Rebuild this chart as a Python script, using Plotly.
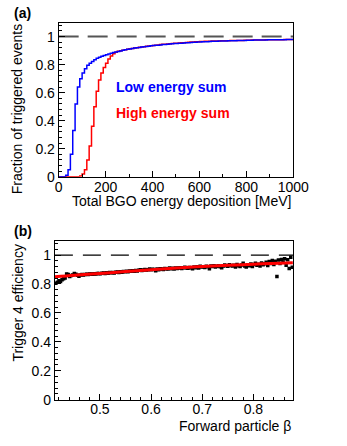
import plotly.graph_objects as go

W, H = 347, 446
FONT = "Liberation Sans, Arial, Helvetica, sans-serif"

# ---------------- Panel (a) data: cumulative fraction, 10 MeV bins ----------------
energy_edges = list(range(0, 1001, 10))  # bin edges in MeV
low_sum = [
    0.0, 0.0, 0.0, 0.01, 0.05, 0.16, 0.33, 0.52, 0.64, 0.70,
    0.74, 0.77, 0.795, 0.81, 0.823, 0.835, 0.845, 0.853, 0.86, 0.866,
    0.871, 0.876, 0.881, 0.886, 0.890, 0.894, 0.898, 0.902, 0.906, 0.909,
    0.912, 0.915, 0.918, 0.920, 0.923, 0.925, 0.927, 0.930, 0.932, 0.934,
    0.936, 0.938, 0.939, 0.941, 0.943, 0.944, 0.946, 0.947, 0.949, 0.950,
    0.951, 0.952, 0.953, 0.955, 0.956, 0.957, 0.958, 0.959, 0.960, 0.961,
    0.962, 0.963, 0.963, 0.964, 0.965, 0.966, 0.966, 0.967, 0.968, 0.968,
    0.969, 0.969, 0.970, 0.970, 0.971, 0.971, 0.972, 0.972, 0.973, 0.973,
    0.974, 0.974, 0.974, 0.975, 0.975, 0.975, 0.976, 0.976, 0.976, 0.977,
    0.977, 0.977, 0.977, 0.978, 0.978, 0.978, 0.978, 0.979, 0.979, 0.979,
]
high_sum = [
    0.0, 0.0, 0.0, 0.0, 0.0, 0.0, 0.0, 0.0, 0.0, 0.005,
    0.02, 0.05, 0.12, 0.22, 0.36, 0.50, 0.61, 0.69, 0.74, 0.78,
    0.81, 0.84, 0.862, 0.878, 0.889, 0.895, 0.899, 0.903, 0.907, 0.910,
    0.913, 0.916, 0.919, 0.921, 0.924, 0.926, 0.928, 0.931, 0.933, 0.935,
    0.937, 0.939, 0.941, 0.943, 0.945, 0.946, 0.948, 0.949, 0.951, 0.952,
    0.953, 0.955, 0.956, 0.957, 0.958, 0.960, 0.961, 0.962, 0.963, 0.964,
    0.965, 0.965, 0.966, 0.967, 0.967, 0.968, 0.968, 0.969, 0.969, 0.970,
    0.970, 0.971, 0.971, 0.972, 0.972, 0.972, 0.973, 0.973, 0.973, 0.974,
    0.974, 0.974, 0.975, 0.975, 0.975, 0.976, 0.976, 0.976, 0.977, 0.977,
    0.977, 0.977, 0.978, 0.978, 0.978, 0.978, 0.979, 0.979, 0.979, 0.979,
]

# ---------------- Panel (b) data: trigger 4 efficiency vs beta ----------------
beta_start, beta_step = 0.414, 0.003
efficiency = [
    0.805, 0.812, 0.822, 0.818, 0.830, 0.836, 0.842, 0.870, 0.866, 0.852,
    0.858, 0.862, 0.872, 0.868, 0.860, 0.853, 0.862, 0.866, 0.863, 0.866,
    0.868, 0.866, 0.869, 0.870, 0.868, 0.871, 0.870, 0.872, 0.873, 0.871,
    0.874, 0.876, 0.873, 0.877, 0.875, 0.879, 0.878, 0.880, 0.876, 0.882,
    0.883, 0.880, 0.884, 0.882, 0.886, 0.885, 0.888, 0.884, 0.890, 0.888,
    0.891, 0.889, 0.893, 0.890, 0.895, 0.898, 0.893, 0.896, 0.900, 0.897,
    0.899, 0.904, 0.898, 0.902, 0.900, 0.892, 0.904, 0.898, 0.906, 0.903,
    0.901, 0.908, 0.905, 0.903, 0.910, 0.906, 0.909, 0.904, 0.911, 0.908,
    0.910, 0.913, 0.907, 0.912, 0.916, 0.911, 0.909, 0.914, 0.912, 0.906,
    0.917, 0.913, 0.919, 0.911, 0.922, 0.917, 0.920, 0.914, 0.923, 0.919,
    0.905, 0.924, 0.921, 0.926, 0.918, 0.922, 0.927, 0.920, 0.913, 0.925,
    0.931, 0.927, 0.922, 0.933, 0.928, 0.924, 0.930, 0.918, 0.935, 0.927,
    0.921, 0.931, 0.943, 0.925, 0.918, 0.932, 0.927, 0.939, 0.921, 0.934,
    0.944, 0.929, 0.937, 0.925, 0.946, 0.933, 0.940, 0.951, 0.928, 0.955,
    0.942, 0.962, 0.935, 0.958, 0.852, 0.966, 0.941, 0.970, 0.952, 0.975,
    0.930, 0.968, 0.908, 0.985, 0.915,
]
beta = [beta_start + beta_step * i for i in range(len(efficiency))]

fit_beta = [0.412, 0.45, 0.5, 0.55, 0.6, 0.65, 0.7, 0.75, 0.8, 0.85, 0.877]
fit_eff = [0.850, 0.861, 0.873, 0.886, 0.899, 0.910, 0.921, 0.929, 0.937, 0.943, 0.947]

fig = go.Figure()

# step histograms (a)
fig.add_trace(go.Scatter(
    x=energy_edges, y=high_sum + [high_sum[-1]], mode="lines",
    line=dict(color="#ff0000", width=1.5, shape="hv"),
    xaxis="x", yaxis="y", showlegend=False))
fig.add_trace(go.Scatter(
    x=energy_edges, y=low_sum + [low_sum[-1]], mode="lines",
    line=dict(color="#0000ff", width=1.5, shape="hv"),
    xaxis="x", yaxis="y", showlegend=False))
# dashed unity line (a)
fig.add_trace(go.Scatter(
    x=[0, 1000], y=[1, 1], mode="lines",
    line=dict(color="#555555", width=2, dash="20px,9px"),
    xaxis="x", yaxis="y", showlegend=False))

# (b)
fig.add_trace(go.Scatter(
    x=[0.412, 0.878], y=[1, 1], mode="lines",
    line=dict(color="#000000", width=1.2, dash="18px,10px"),
    xaxis="x2", yaxis="y2", showlegend=False))
fig.add_trace(go.Scatter(
    x=beta, y=efficiency, mode="markers",
    marker=dict(symbol="square", size=3.5, color="black", line=dict(width=0)),
    xaxis="x2", yaxis="y2", showlegend=False))
fig.add_trace(go.Scatter(
    x=fit_beta, y=fit_eff, mode="lines",
    line=dict(color="#ff0000", width=3, shape="spline"),
    xaxis="x2", yaxis="y2", showlegend=False))

tickfont = dict(family=FONT, size=14, color="black")
common = dict(showgrid=False, zeroline=False, showline=True, linecolor="black",
              linewidth=1, mirror=True, ticks="inside", ticklen=6, tickcolor="black",
              tickfont=tickfont, fixedrange=True)

fig.update_layout(
    width=W, height=H, autosize=False,
    margin=dict(l=0, r=0, t=0, b=0),
    paper_bgcolor="white", plot_bgcolor="white",
    xaxis=dict(domain=[58 / W, 307 / W], range=[0, 1000], dtick=200, tick0=0,
               minor=dict(ticks="inside", ticklen=3, dtick=100, tickcolor="black"),
               anchor="y", ticklabelstandoff=-3, **common),
    yaxis=dict(domain=[(H - 180) / H, (H - 23) / H], range=[0, 1.1], dtick=0.2, tick0=0,
               minor=dict(ticks="inside", ticklen=3, dtick=0.04, tickcolor="black"),
               anchor="x", **common),
    xaxis2=dict(domain=[54 / W, 307 / W], range=[0.412, 0.878], dtick=0.1, tick0=0,
                minor=dict(ticks="inside", ticklen=3, dtick=0.02, tickcolor="black"),
                anchor="y2", ticklabelstandoff=-3, **common),
    yaxis2=dict(domain=[(H - 407) / H, (H - 245) / H], range=[0, 1.1], dtick=0.2, tick0=0,
                minor=dict(ticks="inside", ticklen=3, dtick=0.04, tickcolor="black"),
                anchor="x2", **common),
)

def ann(text, x, y, xanchor="center", yanchor="middle", size=14, color="black",
        angle=0, bold=False):
    fig.add_annotation(
        text=f"<b>{text}</b>" if bold else text, x=x / W, y=(H - y) / H,
        xref="paper", yref="paper", xanchor=xanchor, yanchor=yanchor,
        showarrow=False, textangle=angle,
        font=dict(family=FONT, size=size, color=color))

ann("(a)", 8, 13, xanchor="left", bold=True)
ann("(b)", 8, 235, xanchor="left", bold=True)
ann("Low energy sum", 117, 89, xanchor="left", color="#0000ff", bold=True)
ann("High energy sum", 117, 115, xanchor="left", color="#ff0000", bold=True)
ann("Total BGO energy deposition [MeV]", 307, 205, xanchor="right")
ann("Fraction of triggered events", 14, 111, angle=-90)
ann("Forward particle β", 307, 434, xanchor="right")
ann("Trigger 4 efficiency", 15, 308, angle=-90)

fig.write_html(
    "out.html",
    config={"displayModeBar": False},
    post_script="document.body.style.margin='0';document.body.style.overflow='hidden';",
)
